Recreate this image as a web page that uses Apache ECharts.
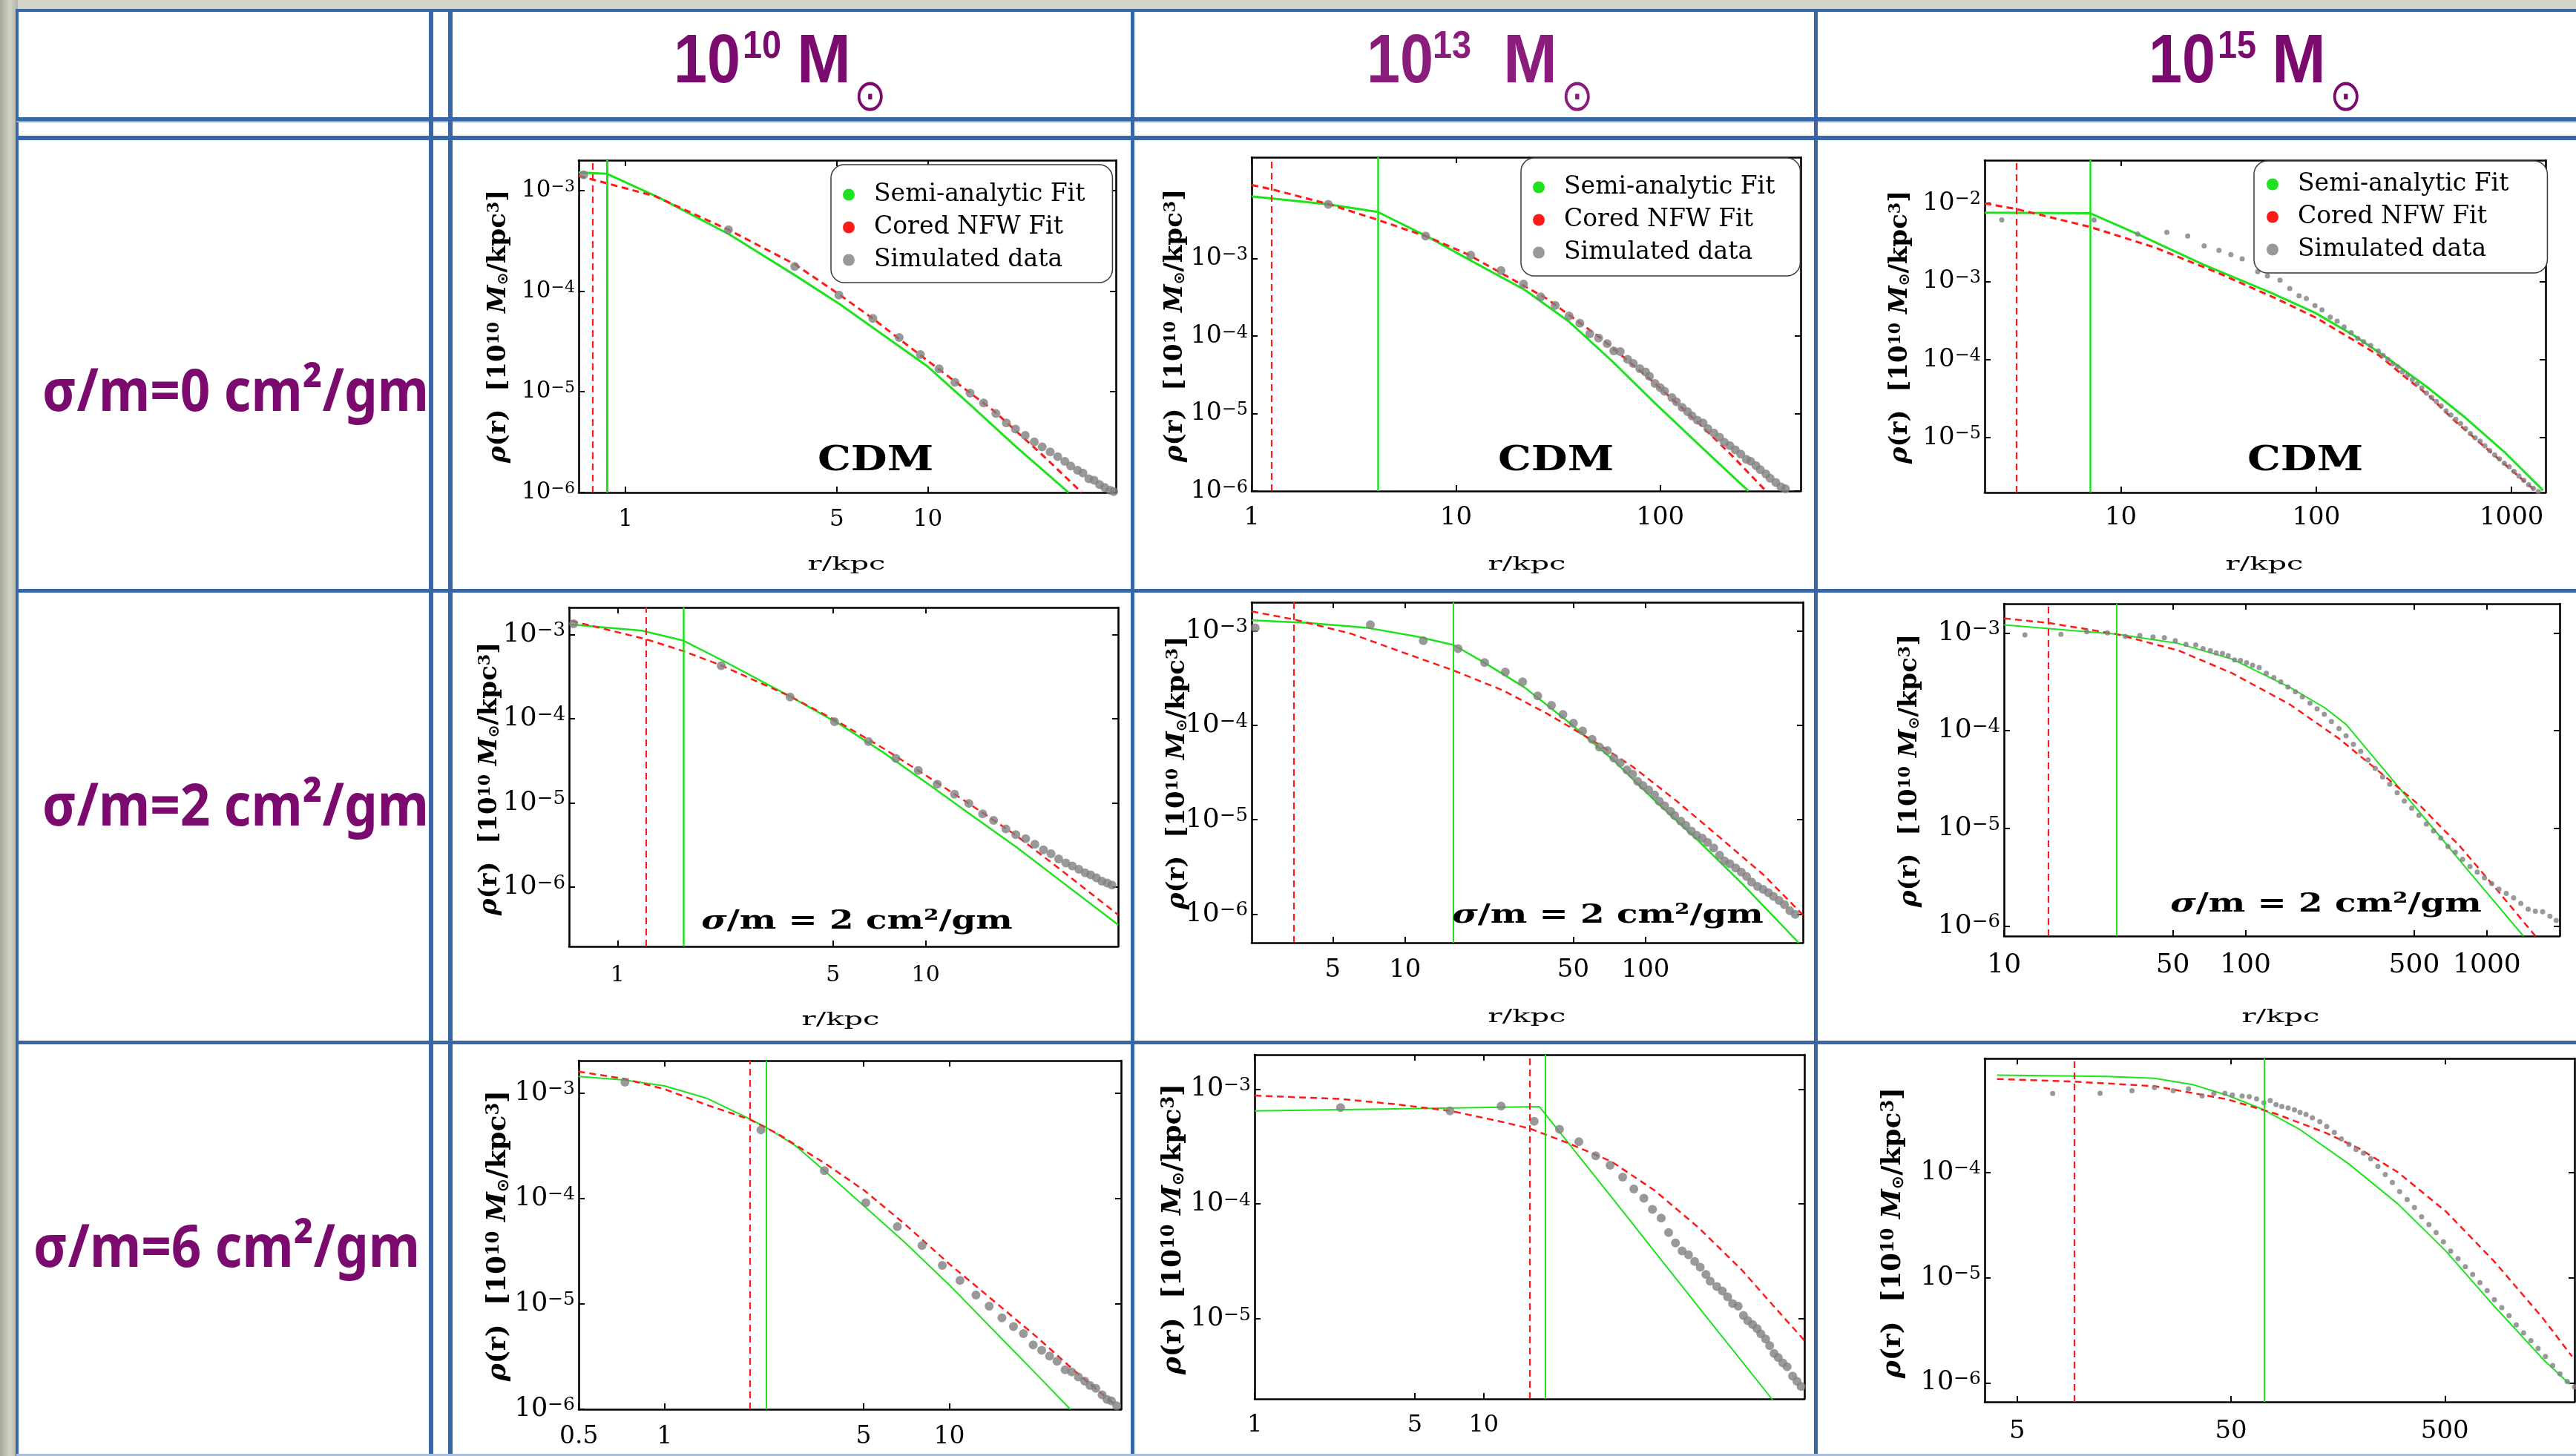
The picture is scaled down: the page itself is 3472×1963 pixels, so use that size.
<!DOCTYPE html>
<html>
<head>
<meta charset="utf-8">
<title>Halo density profiles</title>
<script src="https://cdn.jsdelivr.net/npm/echarts@6/dist/echarts.min.js"></script>
<style>
  html, body { margin: 0; padding: 0; background: #fff; }
  #chart { width: 3472px; height: 1963px; }
</style>
</head>
<body>
<div id="chart"></div>
<script>
// ---------------------------------------------------------------------------
// Table headings
// ---------------------------------------------------------------------------
const haloMassExponents = ['10', '13', '15'];
const crossSectionLabels = ['σ/m=0 cm²/gm', 'σ/m=2 cm²/gm', 'σ/m=6 cm²/gm'];
const panelNotes = ['CDM', 'CDM', 'CDM', 'σ/m = 2 cm²/gm', 'σ/m = 2 cm²/gm', 'σ/m = 2 cm²/gm', '', '', ''];
const seriesNames = ['Semi-analytic Fit', 'Cored NFW Fit', 'Simulated data'];

// ---------------------------------------------------------------------------
// Density profiles: [r (kpc), rho (1e10 Msun / kpc^3)]
// Panels are named m<halo mass exponent>_s<sigma/m>
// ---------------------------------------------------------------------------
// 1e10 Msun, CDM
const m10_s0_semi = [[0.70,1.51e-3],[0.866,1.47e-3],[1.29,8.5e-4],[2.21,3.65e-4],[3.66,1.42e-4],[5.11,7.43e-5],[10,1.78e-5],[14,7.16e-6],[19.5,2.88e-6],[29.2,1.0e-6]];
const m10_s0_nfw = [[0.70,1.40e-3],[1.25,8.8e-4],[2.19,4.08e-4],[3.63,1.85e-4],[5.0,9.64e-5],[6.6,5.3e-5],[10,2.03e-5],[16.5,6.5e-6],[23.9,2.37e-6],[32.3,1.0e-6]];
const m10_s0_sim = [[0.727,1.43e-3],[2.19,4.08e-4],[3.63,1.76e-4],[5.08,9.15e-5],[6.58,5.37e-5],[8.04,3.47e-5],[9.45,2.35e-5],[10.9,1.69e-5],[12.3,1.24e-5],[13.8,9.72e-6],[15.3,7.74e-6],[16.8,6.09e-6],[18.2,4.91e-6],[19.5,4.26e-6],[21.0,3.69e-6],[22.5,3.18e-6],[23.9,2.84e-6],[25.4,2.53e-6],[26.9,2.27e-6],[28.4,2.04e-6],[29.7,1.83e-6],[31.3,1.66e-6],[32.6,1.56e-6],[34.1,1.37e-6],[35.5,1.32e-6],[37.0,1.20e-6],[38.5,1.12e-6],[40.1,1.05e-6],[41.2,1.02e-6]];

// 1e13 Msun, CDM
const m13_s0_semi = [[1,6.38e-3],[2.37,5.04e-3],[4.14,4.01e-3],[7.38,1.88e-3],[12.05,9.19e-4],[21.7,3.96e-4],[35.4,1.57e-4],[57.8,4.82e-5],[94.3,1.36e-5],[154,4.0e-6],[270,1.0e-6]];
const m13_s0_nfw = [[1,8.93e-3],[1.253,7.87e-3],[2.39,5.04e-3],[4.10,3.20e-3],[7.38,1.88e-3],[11.47,1.13e-3],[27.7,3.07e-4],[51.1,9.45e-5],[94.3,2.45e-5],[154,7.55e-6],[228,2.75e-6],[329,1.0e-6]];
const m13_s0_sim = [[2.37,5.04e-3],[7.10,1.96e-3],[11.8,1.11e-3],[16.6,7.02e-4],[21.4,4.69e-4],[26.0,3.21e-4],[30.6,2.49e-4],[35.8,1.82e-4],[40.4,1.47e-4],[45.2,1.07e-4],[49.9,9.45e-5],[55.0,7.98e-5],[59.2,6.47e-5],[63.7,6.31e-5],[69.2,5.02e-5],[73.8,4.43e-5],[79.4,3.80e-5],[84.7,3.44e-5],[88.5,3.03e-5],[94.3,2.45e-5],[100,2.16e-5],[105,1.94e-5],[114,1.61e-5],[120,1.42e-5],[128,1.20e-5],[136,1.06e-5],[143,9.31e-6],[152,8.21e-6],[162,7.55e-6],[171,6.38e-6],[183,5.62e-6],[195,4.95e-6],[206,4.26e-6],[219,3.85e-6],[233,3.39e-6],[248,2.99e-6],[264,2.57e-6],[277,2.42e-6],[294,2.13e-6],[309,1.88e-6],[329,1.66e-6],[345,1.46e-6],[368,1.29e-6],[390,1.13e-6],[410,1.07e-6]];

// 1e15 Msun, CDM
const m15_s0_semi = [[2.01,7.59e-3],[6.98,7.46e-3],[12.2,4.05e-3],[26.4,1.65e-3],[58.9,7.16e-4],[98.6,3.98e-4],[156,2.04e-4],[232,1.04e-4],[367,4.51e-5],[581,1.80e-5],[918,6.58e-6],[1449,2.12e-6]];
const m15_s0_nfw = [[2.01,1.0e-2],[2.92,8.46e-3],[6.98,4.99e-3],[14.9,2.73e-3],[31.4,1.29e-3],[62.4,6.05e-4],[100,3.43e-4],[150,1.87e-4],[210,1.13e-4],[290,5.78e-5],[379,3.43e-5],[511,1.65e-5],[796,6.3e-6],[1242,2.4e-6],[1493,1.61e-6]];
const m15_s0_sim = [[2.46,6.15e-3],[7.30,6.15e-3],[12.2,4.05e-3],[17.2,4.26e-3],[22.0,3.82e-3],[26.7,2.85e-3],[31.8,2.51e-3],[36.6,2.21e-3],[41.8,1.95e-3],[50.2,1.34e-3],[56.3,1.18e-3],[65.3,1.04e-3],[73.2,8.11e-4],[81.7,6.58e-4],[89.0,6.05e-4],[98.6,4.91e-4],[107,4.33e-4],[118,3.51e-4],[128,3.10e-4],[139,2.62e-4],[151,2.21e-4],[163,1.87e-4],[175,1.69e-4],[190,1.52e-4],[208,1.29e-4],[220,1.13e-4],[233,1.0e-4],[246,8.82e-5],[261,8.11e-5],[276,6.98e-5],[293,6.31e-5],[310,5.56e-5],[328,4.91e-5],[347,4.33e-5],[367,3.72e-5],[389,3.28e-5],[412,2.92e-5],[436,2.55e-5],[462,2.21e-5],[489,1.95e-5],[518,1.72e-5],[548,1.52e-5],[581,1.31e-5],[615,1.13e-5],[651,1.0e-5],[690,9.04e-6],[730,7.91e-6],[773,6.85e-6],[819,6.05e-6],[867,5.34e-6],[918,4.71e-6],[972,4.26e-6],[1029,3.72e-6],[1090,3.23e-6],[1154,2.85e-6],[1222,2.51e-6],[1294,2.25e-6],[1371,2.04e-6]];

// 1e10 Msun, sigma/m = 2
const m10_s2_semi = [[0.708,1.31e-3],[1.20,1.11e-3],[1.638,8.43e-4],[2.24,4.71e-4],[3.61,1.86e-4],[5.27,8.55e-5],[7.31,3.94e-5],[10.2,1.67e-5],[14.1,7.13e-6],[19.6,3.03e-6],[27.3,1.20e-6],[42.1,3.59e-7]];
const m10_s2_nfw = [[0.708,1.45e-3],[1.238,8.77e-4],[1.638,6.33e-4],[2.17,4.29e-4],[3.61,1.86e-4],[5.09,9.60e-5],[7.31,4.42e-5],[10.2,2.03e-5],[14.1,9.35e-6],[19.6,4.14e-6],[27.3,1.63e-6],[42.1,4.71e-7]];
const m10_s2_sim = [[0.72,1.34e-3],[2.17,4.26e-4],[3.63,1.81e-4],[5.06,9.23e-5],[6.52,5.36e-5],[8.0,3.37e-5],[9.46,2.43e-5],[10.9,1.67e-5],[12.4,1.27e-5],[13.8,9.88e-6],[15.3,7.41e-6],[16.6,6.20e-6],[18.2,4.91e-6],[19.6,4.21e-6],[21.1,3.77e-6],[22.6,3.23e-6],[24.1,2.77e-6],[25.5,2.50e-6],[27.0,2.17e-6],[28.5,1.94e-6],[29.9,1.79e-6],[31.4,1.63e-6],[32.9,1.48e-6],[34.3,1.40e-6],[35.8,1.29e-6],[37.3,1.18e-6],[38.8,1.12e-6],[40.2,1.06e-6]];

// 1e13 Msun, sigma/m = 2
const m13_s2_semi = [[2.30,1.29e-3],[3.92,1.21e-3],[7.02,1.07e-3],[11.1,8.71e-4],[15.9,7.08e-4],[21.6,4.51e-4],[31.4,2.51e-4],[47.6,1.09e-4],[72.3,4.44e-5],[110,1.57e-5],[166,5.97e-6],[252,2.11e-6],[433,5.0e-7]];
const m13_s2_nfw = [[2.30,1.60e-3],[3.43,1.32e-3],[5.94,9.33e-4],[9.79,5.9e-4],[15.9,3.80e-4],[25.5,2.34e-4],[38.7,1.34e-4],[59.9,6.97e-5],[88.9,3.61e-5],[135,1.57e-5],[205,6.40e-6],[310,2.60e-6],[451,9.86e-7]];
const m13_s2_sim = [[2.38,1.07e-3],[7.17,1.16e-3],[11.9,7.85e-4],[16.6,6.47e-4],[21.4,4.61e-4],[26.1,3.66e-4],[30.8,2.88e-4],[35.6,2.04e-4],[40.6,1.62e-4],[45.3,1.30e-4],[50.1,1.05e-4],[54.7,8.69e-5],[59.9,7.11e-5],[64.3,5.86e-5],[69.3,5.39e-5],[73.8,4.50e-5],[78.5,4.00e-5],[83.6,3.37e-5],[88.3,3.03e-5],[92.7,2.55e-5],[97.5,2.30e-5],[103,2.07e-5],[109,1.83e-5],[114,1.57e-5],[120,1.40e-5],[127,1.23e-5],[132,1.11e-5],[140,9.68e-6],[147,8.73e-6],[155,7.60e-6],[163,6.86e-6],[172,6.40e-6],[181,5.77e-6],[192,5.02e-6],[203,4.22e-6],[213,3.67e-6],[224,3.43e-6],[237,3.09e-6],[250,2.79e-6],[263,2.51e-6],[276,2.19e-6],[292,1.97e-6],[308,1.84e-6],[324,1.69e-6],[340,1.55e-6],[359,1.40e-6],[378,1.26e-6],[398,1.09e-6],[419,1.0e-6]];

// 1e15 Msun, sigma/m = 2
const m15_s2_semi = [[10,1.21e-3],[29.3,9.73e-4],[52.9,7.80e-4],[88.1,5.40e-4],[153,2.77e-4],[212,1.73e-4],[261,1.16e-4],[425,2.75e-5],[615,9.26e-6],[851,3.52e-6],[1416,7.91e-7]];
const m15_s2_nfw = [[10,1.41e-3],[15.2,1.27e-3],[29.3,9.73e-4],[52.9,6.60e-4],[88.1,3.87e-4],[153,1.85e-4],[244,8.29e-5],[387,3.25e-5],[535,1.66e-5],[775,6.52e-6],[1071,2.55e-6],[1588,7.91e-7]];
const m15_s2_sim = [[12.2,9.54e-4],[17.2,9.67e-4],[22.0,1.03e-3],[26.8,1.0e-3],[31.8,9.23e-4],[36.5,9.42e-4],[41.4,9.10e-4],[46.1,8.93e-4],[51.2,8.35e-4],[56.7,7.65e-4],[62.2,7.55e-4],[66.7,6.92e-4],[71.5,6.60e-4],[75.6,6.26e-4],[80.3,6.18e-4],[84.8,5.85e-4],[90.1,5.30e-4],[95.3,5.23e-4],[101,4.95e-4],[107,4.66e-4],[114,4.42e-4],[122,3.87e-4],[131,3.50e-4],[140,3.16e-4],[150,2.80e-4],[161,2.50e-4],[172,2.22e-4],[185,1.91e-4],[198,1.67e-4],[212,1.47e-4],[227,1.24e-4],[244,1.05e-4],[261,8.87e-5],[280,7.25e-5],[300,6.14e-5],[322,5.02e-5],[345,4.10e-5],[370,3.36e-5],[396,2.84e-5],[425,2.32e-5],[455,1.90e-5],[488,1.61e-5],[523,1.36e-5],[561,1.11e-5],[601,9.42e-6],[644,7.97e-6],[690,6.52e-6],[740,5.70e-6],[793,4.82e-6],[851,4.07e-6],[912,3.57e-6],[977,3.12e-6],[1047,2.73e-6],[1122,2.39e-6],[1203,2.16e-6],[1290,1.95e-6],[1382,1.71e-6],[1482,1.49e-6],[1588,1.42e-6],[1702,1.40e-6],[1824,1.26e-6],[1937,1.14e-6]];

// 1e10 Msun, sigma/m = 6
const m10_s6_semi = [[0.498,1.44e-3],[0.718,1.33e-3],[1.0,1.17e-3],[1.41,8.91e-4],[1.88,6.14e-4],[2.27,4.74e-4],[2.88,3.17e-4],[3.69,1.78e-4],[5.03,8.45e-5],[7.01,3.78e-5],[10,1.51e-5],[14.3,5.61e-6],[20.4,2.1e-6],[26.6,1.0e-6]];
const m10_s6_nfw = [[0.498,1.60e-3],[0.718,1.37e-3],[1.0,1.09e-3],[1.41,7.7e-4],[1.99,5.63e-4],[2.50,4.10e-4],[3.69,2.12e-4],[5.03,1.19e-4],[7.01,5.65e-5],[10,2.39e-5],[14.3,1.07e-5],[20.4,4.78e-6],[27.1,2.40e-6],[38.7,1.07e-6]];
const m10_s6_sim = [[0.726,1.27e-3],[2.18,4.47e-4],[3.64,1.84e-4],[5.09,9.10e-5],[6.57,5.40e-5],[8.02,3.57e-5],[9.45,2.32e-5],[10.9,1.67e-5],[12.4,1.21e-5],[13.8,9.52e-6],[15.3,7.35e-6],[16.8,6.08e-6],[18.2,5.21e-6],[19.7,4.07e-6],[21.1,3.62e-6],[22.5,3.19e-6],[23.9,2.85e-6],[25.5,2.37e-6],[26.9,2.26e-6],[28.4,2.02e-6],[29.9,1.85e-6],[31.2,1.68e-6],[32.7,1.58e-6],[34.4,1.37e-6],[35.8,1.24e-6],[37.1,1.20e-6],[38.7,1.08e-6]];

// 1e13 Msun, sigma/m = 6
const m13_s6_semi = [[1,6.45e-4],[4.07,6.73e-4],[17.5,7.02e-4],[36.1,1.15e-4],[86.2,1.28e-5],[181,2.01e-6],[251,8.5e-7]];
const m13_s6_nfw = [[1,8.77e-4],[2.31,8.23e-4],[4.07,7.4e-4],[7.18,6.45e-4],[12.1,5.17e-4],[15.9,4.53e-4],[23.3,3.39e-4],[36.1,2.34e-4],[55.7,1.31e-4],[86.2,6.27e-5],[133,2.70e-5],[189,1.22e-5],[251,6.49e-6]];
const m13_s6_sim = [[2.37,6.91e-4],[7.12,6.45e-4],[11.9,7.10e-4],[16.6,5.25e-4],[21.4,4.46e-4],[26.0,3.48e-4],[30.8,2.63e-4],[35.6,2.17e-4],[40.4,1.71e-4],[45.2,1.35e-4],[50.0,1.12e-4],[54.5,8.97e-5],[59.5,7.54e-5],[64.1,5.64e-5],[68.7,4.57e-5],[73.4,3.90e-5],[78.3,3.61e-5],[83.3,3.16e-5],[88.1,2.81e-5],[93.3,2.43e-5],[97.4,2.13e-5],[104,1.91e-5],[110,1.75e-5],[116,1.55e-5],[122,1.36e-5],[129,1.29e-5],[136,1.07e-5],[142,9.64e-6],[149,8.91e-6],[156,8.23e-6],[162,7.40e-6],[170,6.67e-6],[177,5.84e-6],[185,4.99e-6],[193,4.60e-6],[202,4.14e-6],[211,3.83e-6],[223,3.18e-6],[233,2.86e-6],[243,2.58e-6]];

// 1e15 Msun, sigma/m = 6
const m15_s6_semi = [[4.02,8.41e-4],[13.0,8.17e-4],[21.9,7.85e-4],[33.4,6.79e-4],[48.1,5.40e-4],[71.2,3.93e-4],[105,2.55e-4],[178,1.20e-4],[300,5.06e-5],[505,1.79e-5],[852,5.33e-6],[1438,1.68e-6],[1917,9.72e-7]];
const m15_s6_nfw = [[4.02,7.71e-4],[9.27,7.28e-4],[21.9,6.60e-4],[48.1,4.94e-4],[81.1,3.60e-4],[137,2.40e-4],[197,1.70e-4],[300,1.01e-4],[505,4.26e-5],[852,1.42e-5],[1438,4.1e-6],[1967,1.78e-6]];
const m15_s6_sim = [[7.32,5.62e-4],[12.2,5.65e-4],[17.2,5.98e-4],[21.9,6.41e-4],[26.8,5.98e-4],[31.6,6.23e-4],[36.6,5.33e-4],[41.5,5.62e-4],[46.8,5.65e-4],[50.7,5.45e-4],[56.3,5.30e-4],[60.8,5.24e-4],[65.8,5.00e-4],[71.2,4.59e-4],[76.2,4.81e-4],[81.1,4.41e-4],[86.4,4.23e-4],[92.4,4.09e-4],[98.9,3.93e-4],[105,3.71e-4],[112,3.56e-4],[120,3.30e-4],[130,3.03e-4],[140,2.73e-4],[152,2.40e-4],[164,2.08e-4],[178,1.85e-4],[192,1.65e-4],[208,1.52e-4],[225,1.35e-4],[243,1.14e-4],[263,9.55e-5],[284,8.03e-5],[307,6.56e-5],[333,5.52e-5],[360,4.64e-5],[389,3.79e-5],[421,3.19e-5],[455,2.68e-5],[492,2.19e-5],[532,1.79e-5],[576,1.51e-5],[623,1.27e-5],[674,1.07e-5],[729,8.96e-6],[788,7.54e-6],[852,6.16e-6],[922,5.18e-6],[997,4.36e-6],[1078,3.56e-6],[1166,2.99e-6],[1262,2.52e-6],[1364,2.12e-6],[1476,1.78e-6],[1596,1.46e-6],[1726,1.22e-6],[1866,1.03e-6],[2018,9.17e-7]];

// Core radii (kpc) marked by vertical lines, in panel order (row by row)
const rCoreSemi = [0.866, 4.14, 6.98, 1.638, 15.9, 29.3, 2.27, 18.6, 71.2];
const rCoreNFW  = [0.775, 1.253, 2.92, 1.238, 3.43, 15.2, 1.99, 15.9, 9.27];

// Tick values per panel
const xTickSets = [[1,5,10],[1,10,100],[10,100,1000],[1,5,10],[5,10,50,100],[10,50,100,500,1000],[0.5,1,5,10],[1,5,10],[5,50,500]];
const yTickSets = [[1e-6,1e-5,1e-4,1e-3],[1e-6,1e-5,1e-4,1e-3],[1e-5,1e-4,1e-3,1e-2],[1e-6,1e-5,1e-4,1e-3],[1e-6,1e-5,1e-4,1e-3],[1e-6,1e-5,1e-4,1e-3],[1e-6,1e-5,1e-4,1e-3],[1e-5,1e-4,1e-3],[1e-6,1e-5,1e-4]];

const semiCurves = [m10_s0_semi, m13_s0_semi, m15_s0_semi, m10_s2_semi, m13_s2_semi, m15_s2_semi, m10_s6_semi, m13_s6_semi, m15_s6_semi];
const nfwCurves  = [m10_s0_nfw, m13_s0_nfw, m15_s0_nfw, m10_s2_nfw, m13_s2_nfw, m15_s2_nfw, m10_s6_nfw, m13_s6_nfw, m15_s6_nfw];
const simPoints  = [m10_s0_sim, m13_s0_sim, m15_s0_sim, m10_s2_sim, m13_s2_sim, m15_s2_sim, m10_s6_sim, m13_s6_sim, m15_s6_sim];

// ---------------------------------------------------------------------------
// Layout and styling
// ---------------------------------------------------------------------------
const SERIF = "'DejaVu Serif','Liberation Serif',serif";
const SANS = "'Noto Sans','Liberation Sans',sans-serif";
const HEAD = "'Liberation Sans','Noto Sans',sans-serif";
const GREEN = '#1fe21f';
const RED = '#ff1a1a';
const GRAY = '#7f7f7f';
const BLUE = '#3767a7';
const PURPLE = '#7a0a6e';

const W = 3472, H = 1963;

// grid: [left, top, width, height]; x/y: axis extent; yt/xt: axis-title centre; note: annotation centre
const panels = [
  { grid:[780,216,724,448],  x:[0.70,41.9],   y:[0.999e-6,2.0e-3],  yfs:31, xfs:31, xm:21, yt:[672,440],   ytfs:34, xt:[1141,761],  note:[1180,622], lw:3,   rw:3,   vw:3,   dot:12 },
  { grid:[1687,212,740,450], x:[0.999,487],   y:[0.999e-6,2.04e-2], yfs:33, xfs:34, xm:19, yt:[1584,439],  ytfs:34, xt:[2058,761],  note:[2097,622], lw:3,   rw:3,   vw:2.5, dot:12 },
  { grid:[2675,216,756,448], x:[2.01,1493],   y:[1.99e-6,3.57e-2],  yfs:34, xfs:34, xm:17, yt:[2561,441],  ytfs:34, xt:[3052,761],  note:[3107,622], lw:3,   rw:3,   vw:2.5, dot:7 },
  { grid:[767,819,740,457],  x:[0.696,42.1],  y:[1.98e-7,2.09e-3],  yfs:36, xfs:30, xm:24, yt:[660,1050],  ytfs:34, xt:[1133,1375], note:[1155,1243], lw:2.5, rw:2.5, vw:2.5, dot:12 },
  { grid:[1687,812,743,459], x:[2.30,451],    y:[5.0e-7,2.0e-3],    yfs:36, xfs:34, xm:20, yt:[1587,1042], ytfs:34, xt:[2058,1371], note:[2167,1235], lw:2.5, rw:2.5, vw:2,   dot:12 },
  { grid:[2701,814,749,448], x:[9.99,2002],   y:[7.91e-7,1.99e-3],  yfs:36, xfs:36, xm:22, yt:[2574,1039], ytfs:34, xt:[3074,1371], note:[3135,1220], lw:2,   rw:2.5, vw:2,   dot:7 },
  { grid:[780,1430,731,470], x:[0.4995,40.1], y:[0.999e-6,2.03e-3], yfs:35, xfs:33, xm:21, yt:[672,1666],  ytfs:36, xt:null,        note:null, lw:2,   rw:2.5, vw:2,   dot:12 },
  { grid:[1691,1422,741,464],x:[0.999,251],   y:[2.01e-6,1.99e-3],  yfs:35, xfs:32, xm:20, yt:[1582,1657], ytfs:36, xt:null,        note:null, lw:2,   rw:2.5, vw:2,   dot:12 },
  { grid:[2675,1427,795,463],x:[3.52,2019],   y:[6.6e-7,1.21e-3],   yfs:35, xfs:34, xm:23, yt:[2552,1662], ytfs:36, xt:null,        note:null, lw:2,   rw:2.5, vw:2,   dot:7 }
];

// Legend boxes sit in the top row only
const legendBoxes = [
  { left:1120, top:222, pad:[24,37,14,16] },
  { left:2050, top:213, pad:[23,34,15,16] },
  { left:3038, top:217, pad:[15,52,15,17] }
];

function fmtX(v) { return String(+Number(v).toPrecision(6)); }
function fmtY(v) {
  const e = Math.round(Math.log10(v));
  return '{b|10}{e|' + (e < 0 ? '\u2212' + (-e) : String(e)) + '}';
}

const grids = [], xAxes = [], yAxes = [], series = [], legends = [], graphics = [];

panels.forEach((p, i) => {
  grids.push({ left:p.grid[0], top:p.grid[1], width:p.grid[2], height:p.grid[3], containLabel:false, show:false });
  const frame = { show:true, onZero:false, lineStyle:{ color:'#000', width:2.6 } };
  const tick = (vals) => ({ show:true, inside:true, length:8, customValues:vals, lineStyle:{ color:'#000', width:2 } });
  const xt = xTickSets[i], yt = yTickSets[i];
  const common = { gridIndex:i, type:'log', logBase:10, axisLine:frame, splitLine:{show:false}, minorTick:{show:false}, minorSplitLine:{show:false}, axisPointer:{show:false}, silent:true };
  xAxes.push(Object.assign({}, common, { position:'bottom', min:p.x[0], max:p.x[1], axisTick:tick(xt),
    axisLabel:{ show:true, customValues:xt, margin:p.xm, fontFamily:SERIF, fontSize:p.xfs, color:'#000', formatter:fmtX } }));
  xAxes.push(Object.assign({}, common, { position:'top', min:p.x[0], max:p.x[1], axisTick:tick(xt), axisLabel:{ show:false } }));
  yAxes.push(Object.assign({}, common, { position:'left', min:p.y[0], max:p.y[1], axisTick:tick(yt),
    axisLabel:{ show:true, customValues:yt, margin:5, color:'#000', formatter:fmtY,
      rich:{ b:{ fontFamily:SERIF, fontSize:p.yfs, color:'#000' }, e:{ fontFamily:SERIF, fontSize:Math.round(p.yfs*0.72), color:'#000', verticalAlign:'top' } } } }));
  yAxes.push(Object.assign({}, common, { position:'right', min:p.y[0], max:p.y[1], axisTick:tick(yt), axisLabel:{ show:false } }));

  const ax = { xAxisIndex:2*i, yAxisIndex:2*i };
  series.push(Object.assign({ type:'line', name:seriesNames[0], data:semiCurves[i], symbol:'none', color:GREEN, z:3, silent:true,
    lineStyle:{ color:GREEN, width:p.lw }, itemStyle:{ color:GREEN },
    markLine:{ silent:true, symbol:['none','none'], label:{show:false}, lineStyle:{ color:GREEN, width:p.vw, type:'solid' }, data:[{ xAxis:rCoreSemi[i] }] } }, ax));
  series.push(Object.assign({ type:'line', name:seriesNames[1], data:nfwCurves[i], symbol:'none', color:RED, z:3, silent:true,
    lineStyle:{ color:RED, width:p.rw, type:[9,6] }, itemStyle:{ color:RED },
    markLine:{ silent:true, symbol:['none','none'], label:{show:false}, lineStyle:{ color:RED, width:2.2, type:[9,6] }, data:[{ xAxis:rCoreNFW[i] }] } }, ax));
  series.push(Object.assign({ type:'scatter', name:seriesNames[2], data:simPoints[i], symbol:'circle', symbolSize:p.dot, color:GRAY, z:4, silent:true,
    itemStyle:{ color:GRAY } }, ax));

  // y-axis title
  const f = p.ytfs;
  graphics.push({ type:'text', x:p.yt[0], y:p.yt[1], rotation:Math.PI/2, z:60, silent:true,
    style:{ text:'{g|ρ}{t|(r)  [10}{s|10}{m| M}{o|⊙}{t|/kpc}{s|3}{t|]}', textAlign:'center', textVerticalAlign:'middle',
      fontFamily:SERIF, fontSize:f, fontWeight:'bold', fill:'#000',
      rich:{
        t:{ fontFamily:SERIF, fontSize:f, fontWeight:'bold', fill:'#000' },
        g:{ fontFamily:SERIF, fontSize:f, fontWeight:'bold', fontStyle:'italic', fill:'#000' },
        m:{ fontFamily:SERIF, fontSize:f, fontWeight:'bold', fontStyle:'italic', fill:'#000' },
        s:{ fontFamily:SERIF, fontSize:Math.round(f*0.66), fontWeight:'bold', fill:'#000', verticalAlign:'top' },
        o:{ fontFamily:"'DejaVu Sans',sans-serif", fontSize:Math.round(f*0.6), fontWeight:'bold', fill:'#000', verticalAlign:'bottom' }
      } } });
  // x-axis title
  if (p.xt) {
    graphics.push({ type:'text', x:p.xt[0], y:p.xt[1], scaleX:1.6, z:60, silent:true,
      style:{ text:'r/kpc', textAlign:'center', textVerticalAlign:'middle', fontFamily:SERIF, fontSize:25, fill:'#000' } });
  }
  // in-panel annotation
  if (p.note) {
    const txt = panelNotes[i];
    if (txt === 'CDM') {
      graphics.push({ type:'text', x:p.note[0], y:p.note[1], scaleX:1.2, z:60, silent:true,
        style:{ text:txt, textAlign:'center', textVerticalAlign:'middle', fontFamily:SERIF, fontSize:47, fontWeight:'bold', fill:'#000' } });
    } else {
      graphics.push({ type:'text', x:p.note[0], y:p.note[1], scaleX:1.3, z:60, silent:true,
        style:{ text:'{i|σ}{b|' + txt.slice(1) + '}', textAlign:'center', textVerticalAlign:'middle', fontFamily:SERIF, fontSize:36, fontWeight:'bold', fill:'#000',
          rich:{ i:{ fontFamily:SERIF, fontSize:36, fontWeight:'bold', fontStyle:'italic', fill:'#000' }, b:{ fontFamily:SERIF, fontSize:36, fontWeight:'bold', fill:'#000' } } } });
    }
  }
});

legendBoxes.forEach((b) => {
  legends.push({ show:true, orient:'vertical', left:b.left, top:b.top, padding:b.pad, itemWidth:58, itemHeight:16, itemGap:11,
    selectedMode:false, backgroundColor:'#fff', borderColor:'#3a3a3a', borderWidth:1.5, borderRadius:18, z:10,
    itemStyle:{ borderWidth:0 },
    textStyle:{ fontFamily:SERIF, fontSize:33, lineHeight:30, color:'#000' },
    data:seriesNames.map(n => ({ name:n, icon:'circle' })) });
});

// ---------------------------------------------------------------------------
// Table frame, headings and row labels
// ---------------------------------------------------------------------------
const rect = (x, y, w, h, fill, z) => ({ type:'rect', silent:true, z:z || 0, shape:{ x, y, width:w, height:h }, style:{ fill } });
const frameEls = [
  rect(0, 0, W, H, '#d4d4c9', -10),
  { type:'rect', silent:true, z:-9, shape:{ x:0, y:0, width:24, height:H },
    style:{ fill:{ type:'linear', x:0, y:0, x2:1, y2:0, colorStops:[{offset:0,color:'#a7a799'},{offset:0.55,color:'#d2d2c6'},{offset:1,color:'#b4b4a8'}] } } },
  rect(22, 13, W - 22, H - 13, '#ffffff', -8),
  rect(22, 12, W - 22, 4, BLUE, 1),
  rect(21, 12, 4, H - 12, BLUE, 1),
  rect(22, 158, W - 22, 6, BLUE, 1),
  rect(22, 163, W - 22, 2, '#8fa9d2', 1),
  rect(22, 183, W - 22, 6, BLUE, 1),
  rect(578, 12, 6, H - 12, BLUE, 1),
  rect(604, 12, 6, H - 12, BLUE, 1),
  rect(1524, 12, 5, H - 12, BLUE, 1),
  rect(2445, 12, 5, H - 12, BLUE, 1),
  rect(22, 794, W - 22, 5, BLUE, 1),
  rect(22, 1403, W - 22, 5, BLUE, 1),
  rect(22, 1960, W - 22, 3, '#a9bfdf', 1)
];

// Column headings: 10^N M_sun
const headX = [[908,1001,1074,1151],[1842,1931,2026,2104],[2896,2989,3062,3140]];
const headColor = ['#7a0a6e', '#8a1c7c', '#7a0a6e'];
haloMassExponents.forEach((e, c) => {
  const hx = headX[c], col = headColor[c];
  frameEls.push({ type:'text', x:hx[0], y:86, scaleX:0.88, z:20, silent:true, style:{ text:'10', textAlign:'left', textVerticalAlign:'middle', fontFamily:HEAD, fontSize:92, fontWeight:'bold', fill:col } });
  frameEls.push({ type:'text', x:hx[1], y:64, scaleX:0.9, z:20, silent:true, style:{ text:e, textAlign:'left', textVerticalAlign:'middle', fontFamily:HEAD, fontSize:52, fontWeight:'bold', fill:col } });
  frameEls.push({ type:'text', x:hx[2], y:86, scaleX:0.95, z:20, silent:true, style:{ text:'M', textAlign:'left', textVerticalAlign:'middle', fontFamily:HEAD, fontSize:92, fontWeight:'bold', fill:col } });
  frameEls.push({ type:'text', x:hx[3], y:133, scaleY:1.15, z:20, silent:true, style:{ text:'⊙', textAlign:'left', textVerticalAlign:'middle', fontFamily:"'DejaVu Sans',sans-serif", fontSize:52, fill:col } });
});

// Row labels
const rowLabelPos = [[57,532],[57,1091],[45,1686]];
crossSectionLabels.forEach((t, r) => {
  frameEls.push({ type:'text', x:rowLabelPos[r][0], y:rowLabelPos[r][1], scaleX:0.91, z:20, silent:true,
    style:{ text:t, textAlign:'left', textVerticalAlign:'middle', fontFamily:SANS, fontSize:78, fontWeight:'bold', fill:PURPLE } });
});

const chart = echarts.init(document.getElementById('chart'), null, { renderer:'canvas', width:W, height:H, devicePixelRatio:1 });
chart.setOption({
  animation:false,
  backgroundColor:'#ffffff',
  grid:grids,
  xAxis:xAxes,
  yAxis:yAxes,
  legend:legends,
  series:series,
  graphic:{ elements: frameEls.concat(graphics) }
});
</script>
</body>
</html>
